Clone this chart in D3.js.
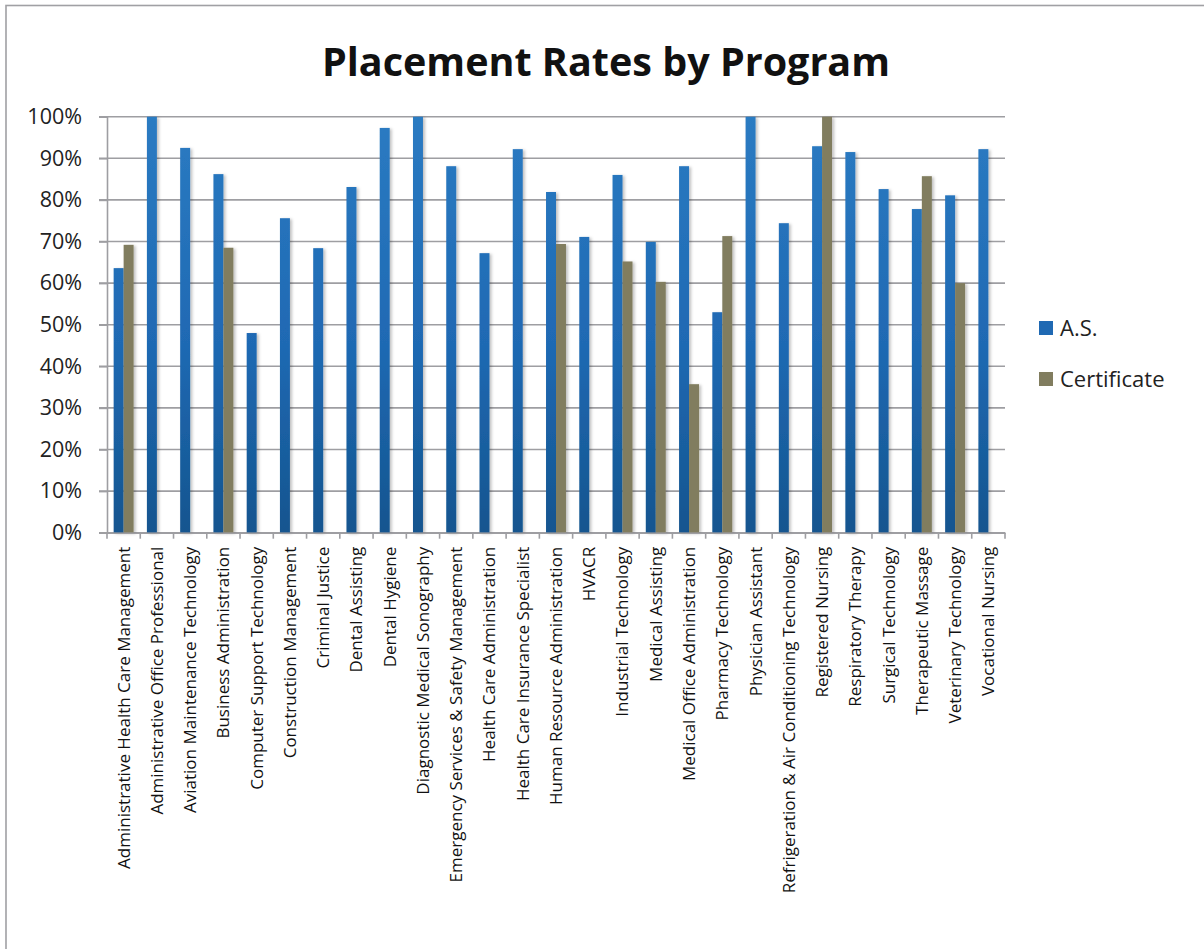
<!DOCTYPE html>
<html>
<head>
<meta charset="utf-8">
<script src="https://cdn.jsdelivr.net/npm/d3@7"></script>
<style>
  body { margin: 0; background: #fff; }
  svg { display: block; }
</style>
</head>
<body>
<svg id="chart" width="1204" height="949"></svg>
<script>
const programs = [
  "Administrative Health Care Management", "Administrative Office Professional",
  "Aviation Maintenance Technology", "Business Administration",
  "Computer Support Technology", "Construction Management", "Criminal Justice",
  "Dental Assisting", "Dental Hygiene", "Diagnostic Medical Sonography",
  "Emergency Services & Safety Management", "Health Care Administration",
  "Health Care Insurance Specialist", "Human Resource Administration", "HVACR",
  "Industrial Technology", "Medical Assisting", "Medical Office Administration",
  "Pharmacy Technology", "Physician Assistant",
  "Refrigeration & Air Conditioning Technology", "Registered Nursing",
  "Respiratory Therapy", "Surgical Technology", "Therapeutic Massage",
  "Veterinary Technology", "Vocational Nursing"
];
const seriesNames = ["A.S.", "Certificate"];
// percent values, null = no bar
const asRates = [63.6, 100, 92.5, 86.2, 48.0, 75.6, 68.4, 83.1, 97.3, 100,
  88.1, 67.2, 92.2, 81.9, 71.1, 86.0, 69.9, 88.1, 53.0, 100,
  74.4, 92.9, 91.5, 82.6, 77.8, 81.1, 92.2];
const certRates = [69.2, null, null, 68.5, null, null, null, null, null, null,
  null, null, null, 69.4, null, 65.2, 60.3, 35.7, 71.3, null,
  null, 100, null, null, 85.7, 60.0, null];
const yTicks = [0, 10, 20, 30, 40, 50, 60, 70, 80, 90, 100];

const svg = d3.select("#chart");
const plotLeft = 107, plotRight = 1005, plotTop = 116.7, plotBottom = 532.7;

// outer border
svg.append("rect")
  .attr("x", 6).attr("y", 5.5).attr("width", 1300).attr("height", 1000)
  .attr("fill", "none").attr("stroke", "#a0a0a4").attr("stroke-width", 1.6);

const defs = svg.append("defs");
const grad = defs.append("linearGradient").attr("id", "blueGrad")
  .attr("gradientUnits", "userSpaceOnUse")
  .attr("x1", 0).attr("x2", 0)
  .attr("y1", plotTop).attr("y2", plotBottom);
grad.append("stop").attr("offset", "0%").attr("stop-color", "#2b7bc2");
grad.append("stop").attr("offset", "55%").attr("stop-color", "#1f69b3");
grad.append("stop").attr("offset", "100%").attr("stop-color", "#14558f");

const shadow = defs.append("filter").attr("id", "shadow")
  .attr("x", "-50%").attr("y", "-5%").attr("width", "200%").attr("height", "110%");
shadow.append("feDropShadow").attr("dx", 2).attr("dy", 1).attr("stdDeviation", 1.5)
  .attr("flood-color", "#000").attr("flood-opacity", 0.25);

const x0 = d3.scaleBand().domain(programs).range([plotLeft, plotRight])
  .paddingInner(0.4).paddingOuter(0.2);
const x1 = d3.scaleBand().domain(seriesNames).range([0, x0.bandwidth()]);
const y = d3.scaleLinear().domain([0, 100]).range([plotBottom, plotTop]);

// title
svg.append("text")
  .attr("x", 606).attr("y", 76)
  .attr("text-anchor", "middle")
  .attr("font-family", "'Open Sans', sans-serif")
  .attr("font-weight", "bold")
  .attr("font-size", 39.5)
  .attr("fill", "#111")
  .text("Placement Rates by Program");

// gridlines
svg.append("g")
  .selectAll("line")
  .data(yTicks)
  .join("line")
  .attr("x1", plotLeft - 8).attr("x2", plotRight)
  .attr("y1", d => y(d)).attr("y2", d => y(d))
  .attr("stroke", "#9e9ea2").attr("stroke-width", 1.6);

// y axis
const yAxis = svg.append("g")
  .attr("transform", `translate(${plotLeft},0)`)
  .call(d3.axisLeft(y).tickValues(yTicks).tickFormat(d => d + "%").tickSize(8).tickPadding(17));
yAxis.select(".domain").attr("stroke", "#9e9ea2").attr("stroke-width", 1.6);
yAxis.selectAll(".tick line").attr("stroke", "#9e9ea2").attr("stroke-width", 1.6);
yAxis.selectAll("text")
  .attr("font-family", "'Open Sans', sans-serif")
  .attr("font-size", 21.5)
  .attr("fill", "#222");

// bars
const groups = svg.append("g")
  .selectAll("g")
  .data(programs.map((p, i) => ({ p, vals: [asRates[i], certRates[i]] })))
  .join("g")
  .attr("transform", d => `translate(${x0(d.p)},0)`);

groups.selectAll("rect")
  .data(d => d.vals.map((v, j) => ({ s: seriesNames[j], v })).filter(e => e.v !== null))
  .join("rect")
  .attr("x", d => x1(d.s))
  .attr("width", x1.bandwidth())
  .attr("y", d => y(d.v))
  .attr("height", d => y(0) - y(d.v))
  .attr("fill", d => d.s === "A.S." ? "url(#blueGrad)" : "#817d5f")
  .attr("filter", "url(#shadow)");

// x axis
const xAxis = svg.append("g")
  .attr("transform", `translate(0,${plotBottom})`)
  .call(d3.axisBottom(x0).tickSize(0).tickPadding(0));
xAxis.select(".domain").attr("stroke", "#9e9ea2").attr("stroke-width", 1.6);
xAxis.selectAll(".tick line").remove();
xAxis.selectAll(".tick text")
  .attr("transform", "rotate(-90)")
  .attr("x", -14).attr("y", 0).attr("dy", "0.35em")
  .attr("text-anchor", "end")
  .attr("font-family", "'Open Sans', sans-serif")
  .attr("font-size", 17)
  .attr("fill", "#111");
// category separator ticks
const step = x0.step();
svg.append("g")
  .selectAll("line")
  .data(d3.range(programs.length + 1))
  .join("line")
  .attr("x1", i => plotLeft + i * step).attr("x2", i => plotLeft + i * step)
  .attr("y1", plotBottom).attr("y2", plotBottom + 6)
  .attr("stroke", "#9e9ea2").attr("stroke-width", 1.6);

// legend
const legend = svg.append("g")
  .selectAll("g")
  .data(seriesNames)
  .join("g")
  .attr("transform", (d, i) => `translate(1039,${321 + i * 51})`);
legend.append("rect")
  .attr("width", 14).attr("height", 14)
  .attr("fill", d => d === "A.S." ? "#1f69b3" : "#817d5f");
legend.append("text")
  .attr("x", 21).attr("y", 14.5)
  .attr("font-family", "'Open Sans', sans-serif")
  .attr("font-size", 22)
  .attr("fill", "#222")
  .text(d => d);
</script>
</body>
</html>
